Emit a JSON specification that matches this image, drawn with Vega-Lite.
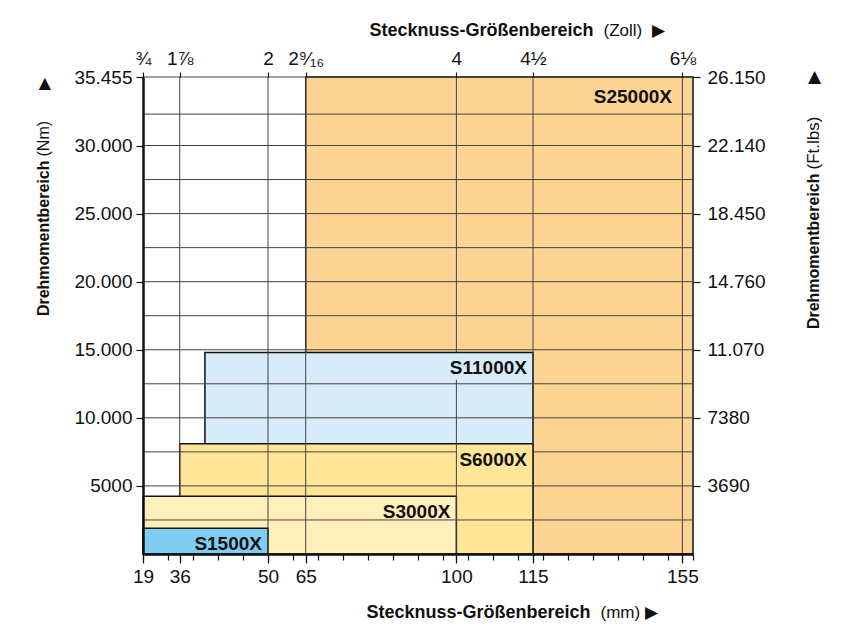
{
  "$schema": "https://vega.github.io/schema/vega-lite/v6.json",
  "width": 550,
  "height": 477,
  "autosize": "none",
  "padding": {"left": 143, "top": 77, "right": 150, "bottom": 79},
  "background": "white",
  "config": {
    "view": {"stroke": null},
    "font": "Liberation Sans, Arial, sans-serif"
  },
  "datasets": {
    "ranges": [
      {"model": "S25000X", "mm_min": 65, "mm_max": 157.8, "nm_min": 0, "nm_max": 35455},
      {"model": "S11000X", "mm_min": 40, "mm_max": 115, "nm_min": 0, "nm_max": 14800},
      {"model": "S6000X", "mm_min": 36, "mm_max": 115, "nm_min": 0, "nm_max": 8100},
      {"model": "S3000X", "mm_min": 19, "mm_max": 100, "nm_min": 0, "nm_max": 4250},
      {"model": "S1500X", "mm_min": 19, "mm_max": 50, "nm_min": 0, "nm_max": 1900}
    ],
    "grid": [
      {"x1": 36, "x2": 36, "y1": 4250, "y2": 35455},
      {"x1": 50, "x2": 50, "y1": 0, "y2": 35455},
      {"x1": 65, "x2": 65, "y1": 0, "y2": 35455},
      {"x1": 100, "x2": 100, "y1": 0, "y2": 12800},
      {"x1": 100, "x2": 100, "y1": 14800, "y2": 35455},
      {"x1": 115, "x2": 115, "y1": 0, "y2": 35455},
      {"x1": 155, "x2": 155, "y1": 0, "y2": 35455},
      {"x1": 19, "x2": 157.8, "y1": 2500, "y2": 2500},
      {"x1": 19, "x2": 157.8, "y1": 5000, "y2": 5000},
      {"x1": 19, "x2": 100, "y1": 7500, "y2": 7500},
      {"x1": 115, "x2": 157.8, "y1": 7500, "y2": 7500},
      {"x1": 19, "x2": 157.8, "y1": 10000, "y2": 10000},
      {"x1": 19, "x2": 157.8, "y1": 12500, "y2": 12500},
      {"x1": 19, "x2": 157.8, "y1": 15000, "y2": 15000},
      {"x1": 19, "x2": 157.8, "y1": 17500, "y2": 17500},
      {"x1": 19, "x2": 157.8, "y1": 20000, "y2": 20000},
      {"x1": 19, "x2": 157.8, "y1": 22500, "y2": 22500},
      {"x1": 19, "x2": 157.8, "y1": 25000, "y2": 25000},
      {"x1": 19, "x2": 157.8, "y1": 27500, "y2": 27500},
      {"x1": 19, "x2": 157.8, "y1": 30000, "y2": 30000},
      {"x1": 19, "x2": 157.8, "y1": 32500, "y2": 32500},
      {"x1": 19, "x2": 157.8, "y1": 35455, "y2": 35455}
    ]
  },
  "layer": [
    {
      "data": {"name": "ranges"},
      "mark": {"type": "rect", "stroke": "#111", "strokeWidth": 1.5},
      "encoding": {
        "x": {
          "field": "mm_min", "type": "quantitative",
          "scale": {"domain": [19, 36, 50, 65, 100, 115, 155, 157.8], "range": [0, 36.7, 125, 162.7, 313.4, 390, 539.4, 550], "zero": false, "nice": false},
          "axis": {
            "orient": "bottom", "zindex": 2,
            "values": [19, 30.58, 36, 38.11, 42.07, 46.04, 50, 59.95, 65, 67.86, 73.66, 79.47, 85.27, 91.08, 96.89, 100, 102.27, 107.17, 112.06, 115, 117.68, 124.37, 131.06, 137.76, 144.45, 151.14, 155, 157.8],
            "labelExpr": "indexof([19,36,50,65,100,115,155], datum.value) >= 0 ? '' + datum.value : ''",
            "labelOverlap": false, "labelFlush": false,
            "tickSize": 6, "tickColor": "#111", "tickWidth": 1.2,
            "domainColor": "#111", "domainWidth": 2.5,
            "grid": false,
            "labelFontSize": 19, "labelColor": "#111", "labelPadding": 7,
            "title": "Stecknuss-Größenbereich",
            "titleFontSize": 18, "titleFontWeight": "bold", "titleColor": "#111",
            "titleAlign": "right", "titleBaseline": "alphabetic", "titleX": 447, "titleY": 63.5
          }
        },
        "x2": {"field": "mm_max"},
        "y": {
          "field": "nm_max", "type": "quantitative",
          "scale": {"domain": [0, 30000, 35455], "range": [477, 68.5, 0], "zero": false, "nice": false},
          "axis": {
            "orient": "left", "zindex": 2,
            "values": [5000, 10000, 15000, 20000, 25000, 30000, 35455],
            "labelExpr": "datum.value < 10000 ? '' + datum.value : replace(format(datum.value, ','), ',', '.')",
            "tickSize": 7, "tickColor": "#111", "tickWidth": 1.2,
            "domainColor": "#111", "domainWidth": 2.5,
            "grid": false,
            "labelFontSize": 19, "labelColor": "#111", "labelPadding": 4,
            "title": "Drehmomentbereich",
            "titleFontSize": 16, "titleFontWeight": "bold", "titleColor": "#111",
            "titleAngle": 270, "titleAlign": "right", "titleBaseline": "alphabetic", "titleX": -95, "titleY": 83
          }
        },
        "y2": {"field": "nm_min"},
        "fill": {
          "field": "model", "type": "nominal", "legend": null,
          "scale": {"domain": ["S25000X", "S11000X", "S6000X", "S3000X", "S1500X"], "range": ["#FCD493", "#D7EBF9", "#FEE598", "#FFEFBA", "#7FCEF2"]}
        }
      }
    },
    {
      "data": {"name": "grid"},
      "mark": {"type": "rule", "stroke": "#444", "strokeWidth": 1},
      "encoding": {
        "x": {
          "field": "x1", "type": "quantitative",
          "axis": {
            "orient": "top", "zindex": 2,
            "values": [19, 36, 50, 65, 100, 115, 155],
            "labelExpr": "datum.value == 19 ? '¾' : datum.value == 36 ? '1⅞' : datum.value == 50 ? '2' : datum.value == 65 ? '2⁹⁄₁₆' : datum.value == 100 ? '4' : datum.value == 115 ? '4½' : '6⅛'",
            "labelOverlap": false, "labelFlush": false,
            "tickSize": 5, "tickColor": "#111", "tickWidth": 1.2,
            "domain": false, "grid": false,
            "labelFontSize": 19, "labelColor": "#111", "labelPadding": 4,
            "title": "Stecknuss-Größenbereich",
            "titleFontSize": 18, "titleFontWeight": "bold", "titleColor": "#111",
            "titleAlign": "right", "titleBaseline": "alphabetic", "titleX": 450, "titleY": -42
          }
        },
        "x2": {"field": "x2"},
        "y": {
          "field": "y1", "type": "quantitative",
          "axis": {
            "orient": "right", "zindex": 2,
            "values": [5000, 10000, 15000, 20000, 25000, 30000, 35455],
            "labelExpr": "datum.value == 5000 ? '3690' : datum.value == 10000 ? '7380' : datum.value == 15000 ? '11.070' : datum.value == 20000 ? '14.760' : datum.value == 25000 ? '18.450' : datum.value == 30000 ? '22.140' : '26.150'",
            "tickSize": 7, "tickColor": "#111", "tickWidth": 1.2,
            "domain": false, "grid": false,
            "labelFontSize": 19, "labelColor": "#111", "labelPadding": 7,
            "title": "Drehmomentbereich",
            "titleFontSize": 16, "titleFontWeight": "bold", "titleColor": "#111",
            "titleAngle": 270, "titleAlign": "right", "titleBaseline": "alphabetic", "titleX": 125, "titleY": 96
          }
        },
        "y2": {"field": "y2"}
      }
    },
    {
      "data": {"name": "ranges"},
      "transform": [{"filter": "datum.model == 'S25000X'"}],
      "mark": {"type": "text", "align": "right", "baseline": "alphabetic", "dx": -21, "dy": 26, "fontSize": 19, "fontWeight": "bold", "color": "#111"},
      "encoding": {
        "x": {
          "field": "mm_max", "type": "quantitative",
          "axis": {
            "orient": "bottom", "zindex": 2, "labels": false, "ticks": true, "tickSize": 9, "tickColor": "#111", "tickWidth": 1.2,
            "domain": false, "grid": false, "values": [19, 36, 50, 65, 100, 115, 155],
            "title": "(mm)\u00a0▶",
            "titleFontSize": 17, "titleFontWeight": "normal", "titleColor": "#111",
            "titleAlign": "left", "titleBaseline": "alphabetic", "titleX": 457, "titleY": 63.5
          }
        },
        "y": {
          "field": "nm_max", "type": "quantitative",
          "axis": {
            "orient": "left", "labels": false, "ticks": false, "domain": false, "grid": false, "values": [],
            "title": "(Nm)\u00a0\u00a0\u00a0\u00a0\u00a0\u00a0\u00a0▶",
            "titleFontSize": 16, "titleFontWeight": "normal", "titleColor": "#111",
            "titleAngle": 270, "titleAlign": "left", "titleBaseline": "alphabetic", "titleX": -95, "titleY": 79
          }
        },
        "text": {"field": "model"}
      }
    },
    {
      "data": {"name": "ranges"},
      "transform": [{"filter": "datum.model != 'S25000X'"}],
      "mark": {"type": "text", "align": "right", "baseline": "alphabetic", "dx": -6, "dy": 22, "fontSize": 19, "fontWeight": "bold", "color": "#111"},
      "encoding": {
        "x": {
          "field": "mm_max", "type": "quantitative",
          "axis": {
            "orient": "top", "labels": false, "ticks": false, "domain": false, "grid": false, "values": [],
            "title": "(Zoll)\u00a0\u00a0▶",
            "titleFontSize": 17, "titleFontWeight": "normal", "titleColor": "#111",
            "titleAlign": "left", "titleBaseline": "alphabetic", "titleX": 460, "titleY": -42
          }
        },
        "y": {
          "field": "nm_max", "type": "quantitative",
          "axis": {
            "orient": "right", "labels": false, "ticks": false, "domain": false, "grid": false, "values": [],
            "title": "(Ft.lbs)\u00a0\u00a0\u00a0\u00a0\u00a0\u00a0\u00a0▶",
            "titleFontSize": 17, "titleFontWeight": "normal", "titleColor": "#111",
            "titleAngle": 270, "titleAlign": "left", "titleBaseline": "alphabetic", "titleX": 125, "titleY": 92
          }
        },
        "text": {"field": "model"}
      }
    }
  ],
  "resolve": {"axis": {"x": "independent", "y": "independent"}}
}
